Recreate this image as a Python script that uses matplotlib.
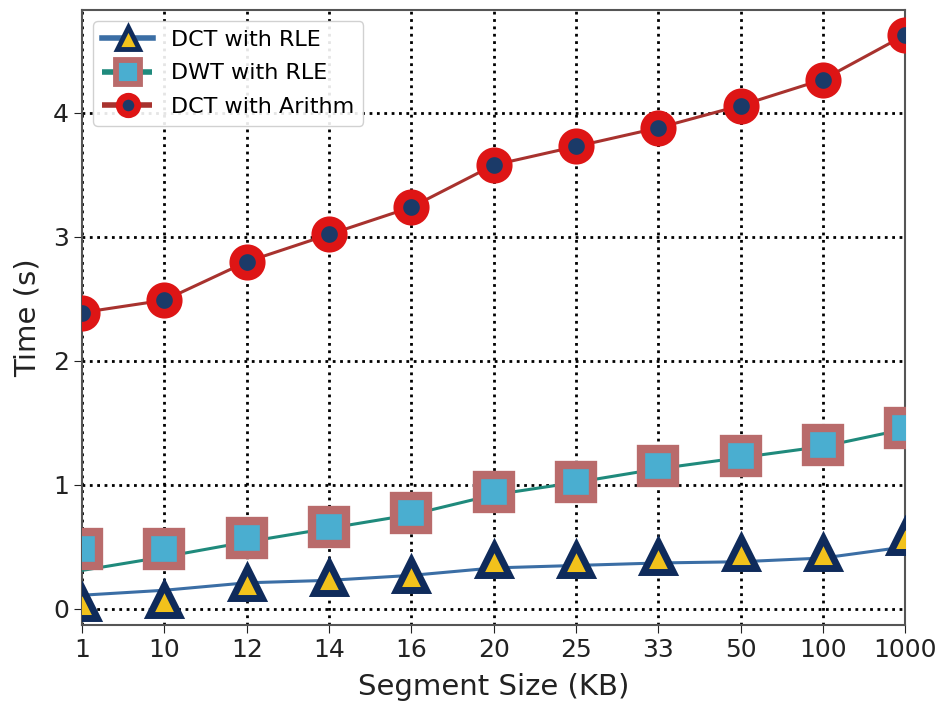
import matplotlib
matplotlib.use('Agg')
import matplotlib.pyplot as plt
import numpy as np

segment_sizes = ['1', '10', '12', '14', '16', '20', '25', '33', '50', '100', '1000']

# line values and marker values are read separately (they do not coincide in the original)
dct_rle_line = [0.11, 0.15, 0.21, 0.23, 0.27, 0.33, 0.35, 0.37, 0.38, 0.41, 0.50]
dct_rle_mark = [0.05, 0.07, 0.21, 0.25, 0.27, 0.39, 0.39, 0.42, 0.45, 0.45, 0.58]
dwt_rle_line = [0.31, 0.42, 0.54, 0.65, 0.76, 0.92, 1.02, 1.13, 1.22, 1.31, 1.45]
dwt_rle_mark = [0.48, 0.48, 0.57, 0.66, 0.77, 0.94, 1.02, 1.15, 1.23, 1.32, 1.46]
dct_arith = [2.39, 2.49, 2.80, 3.02, 3.24, 3.58, 3.73, 3.88, 4.06, 4.27, 4.63]

x = np.arange(len(segment_sizes))

fig = plt.figure(figsize=(9.44, 7.2), dpi=100)
ax = fig.add_axes([0.087, 0.132, 0.872, 0.854])

styles = [
    ('DCT with RLE', dct_rle_line, dct_rle_mark, '#3b6ea5', '^', '#f2c21b', '#0f2b5b', 22, 5),
    ('DWT with RLE', dwt_rle_line, dwt_rle_mark, '#1f8a7c', 's', '#4aaed0', '#b96b6b', 24, 6),
    ('DCT with Arithm', dct_arith, dct_arith, '#a8322e', 'o', '#1b3a68', '#de1515', 19, 7),
]

handles = []
for label, yl, ym, lc, mk, mfc, mec, ms, mew in styles:
    ax.plot(x, yl, color=lc, lw=2.2, zorder=3)
    ax.plot(x, ym, ls='none', marker=mk, ms=ms, mfc=mfc, mec=mec, mew=mew, zorder=4)
    h, = ax.plot([], [], color=lc, lw=4, ls='--' if mk != '^' else '-',
                 marker=mk, ms=ms * 0.7, mfc=mfc, mec=mec, mew=mew * 0.7)
    handles.append(h)
    h.set_label(label)

ax.set_xlim(0, 10)
ax.set_ylim(-0.13, 4.83)
ax.set_xticks(x)
ax.set_xticklabels(segment_sizes)
ax.set_yticks([0, 1, 2, 3, 4])
ax.tick_params(labelsize=18, length=6, colors='#222222')
ax.grid(color='black', linestyle=':', linewidth=2, zorder=0)
ax.set_axisbelow(True)
for s in ax.spines.values():
    s.set_color('#555555')
    s.set_linewidth(1.5)

ax.set_xlabel('Segment Size (KB)', fontsize=21, color='#222222', labelpad=8)
ax.set_ylabel('Time (s)', fontsize=21, color='#222222', labelpad=8)
ax.legend(handles=handles, loc='upper left', fontsize=16, handlelength=2.3,
          borderaxespad=0.5, labelspacing=0.6, framealpha=0.9)

fig.savefig('out.png', dpi=100)
